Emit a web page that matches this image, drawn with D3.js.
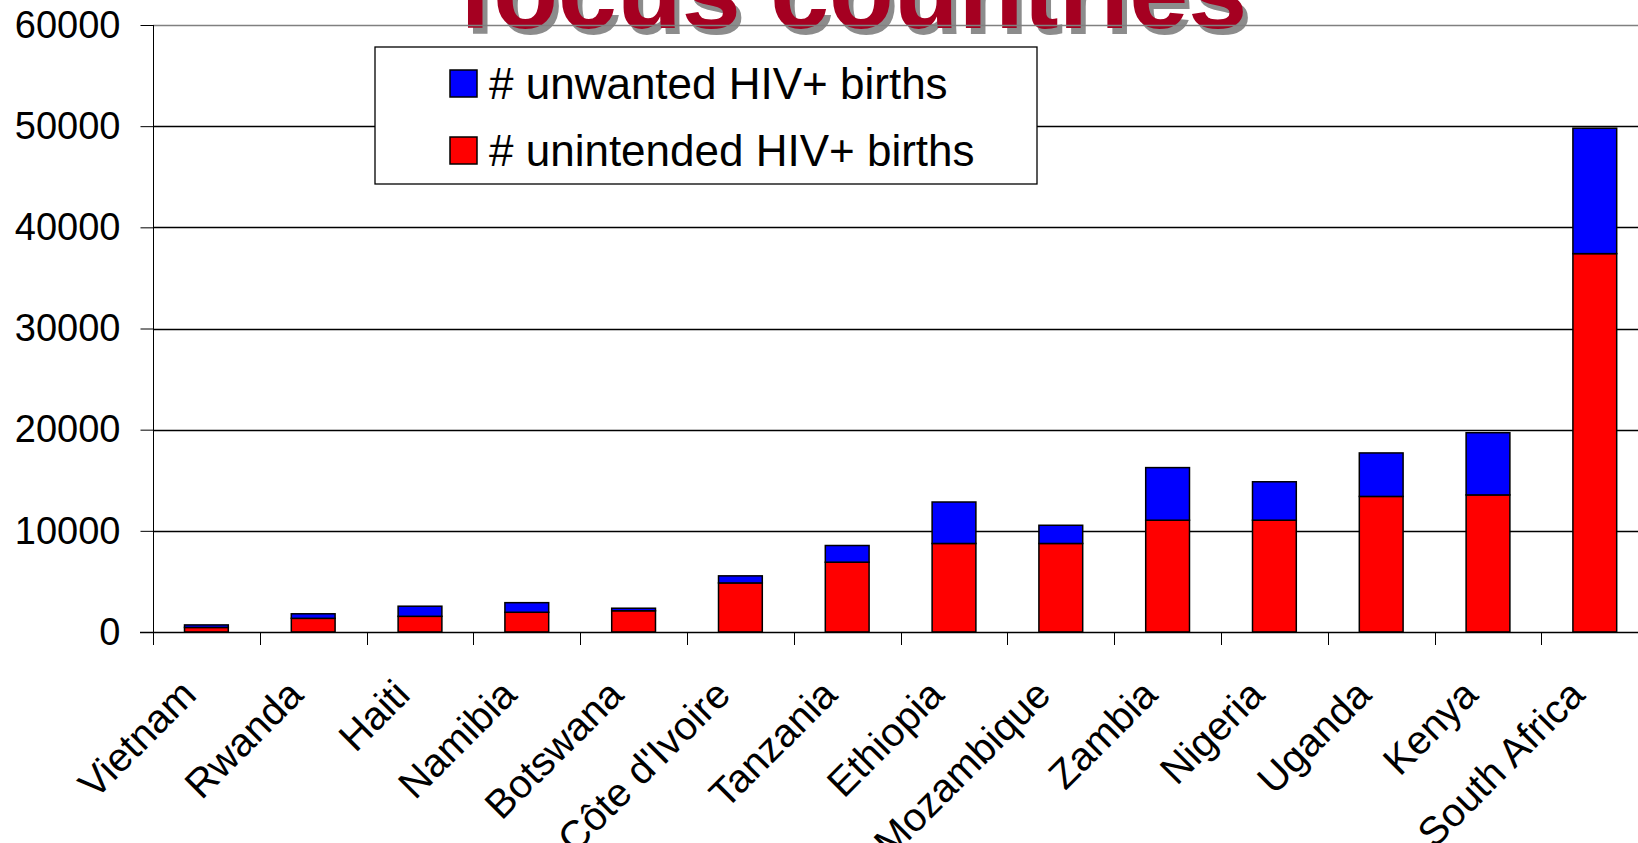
<!DOCTYPE html>
<html>
<head>
<meta charset="utf-8">
<script src="https://cdn.jsdelivr.net/npm/d3@7"></script>
<style>
  html, body { margin: 0; padding: 0; background: #fff; }
  svg { display: block; font-family: 'Liberation Sans', Arial, sans-serif; }
</style>
</head>
<body>
<svg id="chart" width="1638" height="843"></svg>
<script>
// data
const countries = ['Vietnam', 'Rwanda', 'Haiti', 'Namibia', 'Botswana', "Côte d'Ivoire",
    'Tanzania', 'Ethiopia', 'Mozambique', 'Zambia', 'Nigeria', 'Uganda', 'Kenya', 'South Africa'];
const unintended = [450, 1350, 1550, 1950, 2100, 4850, 6900, 8750, 8750, 11050, 11050, 13400, 13550, 37400];
const unwanted = [250, 450, 1000, 950, 250, 700, 1650, 4100, 1800, 5200, 3800, 4300, 6150, 12400];
const yTicks = [0, 10000, 20000, 30000, 40000, 50000, 60000];
const seriesNames = ['# unwanted HIV+ births', '# unintended HIV+ births'];
const seriesColors = ['#0000ff', '#ff0000'];
const titleText = 'focus countries';

(function() {
    'use strict';

    let svg = d3.select('#chart');
    let left = 153;
    let step = 106.8;
    let y0 = 632;
    let yTop = 25;

    let x = d3.scaleBand()
        .domain(countries)
        .range([left, left + step * countries.length])
        .paddingInner(0.59)
        .paddingOuter(0.295);

    let y = d3.scaleLinear()
        .domain([0, 60000])
        .range([y0, yTop]);

    // title, partly cut off at the top, sits behind the plot lines
    let title = svg.append('g')
        .attr('font-weight', 'bold')
        .attr('font-size', 106);
    title.append('text')
        .attr('x', 463).attr('y', 34)
        .attr('fill', '#8c8c8c')
        .text(titleText);
    title.append('text')
        .attr('x', 458).attr('y', 28)
        .attr('fill', '#a50021')
        .text(titleText);

    // gridlines
    svg.append('g')
        .selectAll('line')
        .data(yTicks.filter(d => d > 0))
        .enter().append('line')
        .attr('x1', left).attr('x2', 1640)
        .attr('y1', d => Math.round(y(d)) + 0.5)
        .attr('y2', d => Math.round(y(d)) + 0.5)
        .attr('stroke', d => d === 60000 ? '#808080' : '#000')
        .attr('stroke-width', 1.3);

    // y axis
    let yAxis = d3.axisLeft(y)
        .tickValues(yTicks)
        .tickSize(13)
        .tickPadding(20)
        .tickFormat(d3.format('d'));
    let ya = svg.append('g')
        .attr('transform', 'translate(' + (left + 0.5) + ',0)')
        .call(yAxis);
    ya.select('.domain').remove();
    ya.append('line')
        .attr('y1', yTop).attr('y2', y0)
        .attr('stroke', '#000');
    ya.selectAll('.tick line').attr('stroke', '#000');
    ya.selectAll('.tick text')
        .attr('fill', '#000')
        .attr('font-size', 38)
        .attr('font-family', "'Liberation Sans', Arial, sans-serif");

    // stacked bars
    let stackData = countries.map((c, i) => ({country: c, unintended: unintended[i], unwanted: unwanted[i]}));
    let stack = d3.stack().keys(['unintended', 'unwanted'])(stackData);
    let colorOf = {unintended: seriesColors[1], unwanted: seriesColors[0]};

    svg.append('g')
        .selectAll('g')
        .data(stack)
        .enter().append('g')
        .attr('fill', d => colorOf[d.key])
        .selectAll('rect')
        .data(d => d)
        .enter().append('rect')
        .attr('x', d => x(d.data.country))
        .attr('width', x.bandwidth())
        .attr('y', d => y(d[1]))
        .attr('height', d => y(d[0]) - y(d[1]))
        .attr('stroke', '#000')
        .attr('stroke-width', 1.5);

    // x axis line and category ticks
    let xg = svg.append('g');
    xg.append('line')
        .attr('x1', left - 13).attr('x2', 1640)
        .attr('y1', y0 + 0.5).attr('y2', y0 + 0.5)
        .attr('stroke', '#000')
        .attr('stroke-width', 1.3);
    xg.selectAll('.cat-tick')
        .data(d3.range(countries.length + 1))
        .enter().append('line')
        .attr('class', 'cat-tick')
        .attr('x1', i => Math.round(left + i * step) + 0.5)
        .attr('x2', i => Math.round(left + i * step) + 0.5)
        .attr('y1', y0).attr('y2', y0 + 13)
        .attr('stroke', '#000');

    xg.selectAll('.cat-label')
        .data(countries)
        .enter().append('text')
        .attr('class', 'cat-label')
        .attr('font-size', 40)
        .attr('text-anchor', 'end')
        .attr('fill', '#000')
        .attr('transform', d => {
            let cx = x(d) + x.bandwidth() / 2 - 8;
            let cy = y0 + 65;
            return 'translate(' + cx + ',' + cy + ') rotate(-45)';
        })
        .text(d => d);

    // legend
    let lg = svg.append('g').attr('transform', 'translate(375,47)');
    lg.append('rect')
        .attr('width', 662).attr('height', 137)
        .attr('fill', '#fff')
        .attr('stroke', '#000')
        .attr('stroke-width', 1.3);
    let item = lg.selectAll('.item')
        .data(seriesNames)
        .enter().append('g')
        .attr('class', 'item')
        .attr('transform', (d, i) => 'translate(75,' + (37 + i * 67) + ')');
    item.append('rect')
        .attr('x', 0).attr('y', -14)
        .attr('width', 27).attr('height', 27)
        .attr('fill', (d, i) => seriesColors[i])
        .attr('stroke', '#000')
        .attr('stroke-width', 1.5);
    item.append('text')
        .attr('x', 39)
        .attr('dy', '0.35em')
        .attr('font-size', 44)
        .attr('fill', '#000')
        .text(d => d);
})();
</script>
</body>
</html>
